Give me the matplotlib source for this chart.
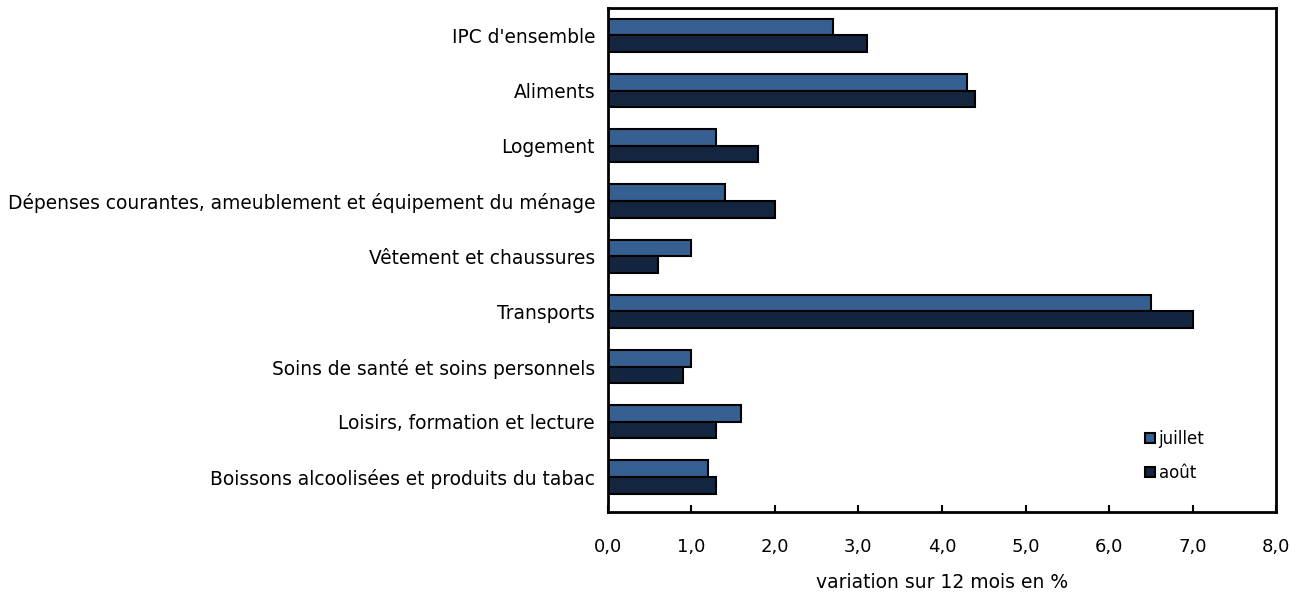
import matplotlib.pyplot as plt
import numpy as np

categories = [
    "IPC d'ensemble",
    "Aliments",
    "Logement",
    "Dépenses courantes, ameublement et équipement du ménage",
    "Vêtement et chaussures",
    "Transports",
    "Soins de santé et soins personnels",
    "Loisirs, formation et lecture",
    "Boissons alcoolisées et produits du tabac",
]
juillet = [2.7, 4.3, 1.3, 1.4, 1.0, 6.5, 1.0, 1.6, 1.2]
aout = [3.1, 4.4, 1.8, 2.0, 0.6, 7.0, 0.9, 1.3, 1.3]
xticks = [0, 1, 2, 3, 4, 5, 6, 7, 8]

plt.rcParams["font.family"] = ["DejaVu Sans"]

fig = plt.figure(figsize=(13.01, 6.0), dpi=100)
ax = fig.add_axes([0.467, 0.147, 0.514, 0.84])

y = np.arange(len(categories))
h = 0.3
ax.barh(y - h / 2, juillet, height=h, color="#376092", edgecolor="black",
        linewidth=1.5, label="juillet")
ax.barh(y + h / 2, aout, height=h, color="#13253f", edgecolor="black",
        linewidth=1.5, label="août")

ax.set_ylim(len(categories) - 1 + 0.63, -0.5)
ax.set_xlim(0, 8)
ax.set_yticks(y)
ax.set_yticklabels(categories, fontsize=13.4)
ax.set_xticks(xticks)
ax.set_xticklabels([f"{v:.1f}".replace(".", ",") for v in xticks], fontsize=13)
ax.tick_params(axis="y", length=0, pad=9)
ax.tick_params(axis="x", direction="in", length=5, width=1.5, pad=19)
for s in ax.spines.values():
    s.set_linewidth(2)
ax.set_xlabel("variation sur 12 mois en %", fontsize=13.5, labelpad=12)

ax.legend(loc="lower right", bbox_to_anchor=(0.915, 0.03), frameon=False,
          fontsize=12, handlelength=0.6, handleheight=0.6, handletextpad=0.2,
          labelspacing=0.95)

fig.savefig("out.png", dpi=100)
